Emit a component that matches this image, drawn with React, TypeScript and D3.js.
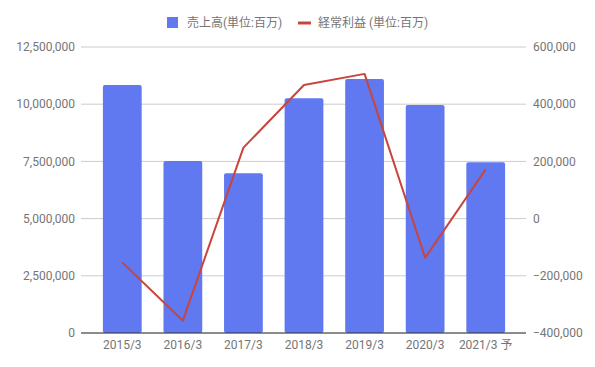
import * as d3 from 'd3';

const categories = ['2015/3', '2016/3', '2017/3', '2018/3', '2019/3', '2020/3', '2021/3 予'];
const sales = [10840000, 7520000, 6980000, 10260000, 11100000, 9970000, 7460000];
const ordinaryProfit = [-153000, -357000, 248000, 467000, 506000, -137000, 172000];
const leftTicks = [0, 2500000, 5000000, 7500000, 10000000, 12500000];
const rightTicks = [-400000, -200000, 0, 200000, 400000, 600000];
const legendLabels = ['売上高(単位:百万)', '経常利益 (単位:百万)'];

const W = 595;
const H = 367;
const FONT = "Roboto, 'Noto Sans CJK JP', sans-serif";

export default function App() {
  const top = 47;
  const bottom = 333;
  const gridLeft = 81;
  const gridRight = 526;

  const x = d3.scaleBand().domain(categories).range([92, 516]).paddingInner(0.36).paddingOuter(0.18);
  const yL = d3.scaleLinear().domain([0, 12500000]).range([bottom, top]);
  const yR = d3.scaleLinear().domain([-400000, 600000]).range([bottom, top]);
  const fmt = d3.format(',');

  const line = d3
    .line<number>()
    .x((_, i) => (x(categories[i]) || 0) + x.bandwidth() / 2)
    .y((d) => yR(d));

  return (
    <svg width={W} height={H} style={{ position: 'absolute', left: 0, top: 0 }} fontFamily={FONT}>
      <rect width={W} height={H} fill="#fff" />

      {/* gridlines */}
      {leftTicks.map((t) => (
        <line key={t} x1={gridLeft} x2={gridRight} y1={yL(t)} y2={yL(t)} stroke="#cccccc" strokeWidth={1} />
      ))}

      {/* bars */}
      {sales.map((v, i) => (
        <rect
          key={categories[i]}
          x={x(categories[i])}
          y={yL(v)}
          width={x.bandwidth()}
          height={bottom - yL(v)}
          fill="#6079f0"
          rx={2}
          ry={2}
        />
      ))}

      {/* baseline */}
      <line x1={gridLeft} x2={gridRight} y1={bottom} y2={bottom} stroke="#333" strokeWidth={1} />

      {/* profit line */}
      <path d={line(ordinaryProfit) || ''} fill="none" stroke="#c8453d" strokeWidth={2} strokeLinejoin="round" />

      {/* left axis labels */}
      {leftTicks.map((t) => (
        <text key={t} x={75} y={yL(t)} dy="0.35em" textAnchor="end" fontSize={12} fill="#757575">
          {fmt(t)}
        </text>
      ))}

      {/* right axis labels */}
      {rightTicks.map((t) => (
        <text key={t} x={533} y={yR(t)} dy="0.35em" textAnchor="start" fontSize={12} fill="#757575">
          {fmt(t)}
        </text>
      ))}

      {/* x labels */}
      {categories.map((c) => (
        <text key={c} x={(x(c) || 0) + x.bandwidth() / 2} y={345} dy="0.35em" textAnchor="middle" fontSize={12} fill="#757575">
          {c}
        </text>
      ))}

      {/* legend */}
      <rect x={167} y={17} width={11} height={11} fill="#6079f0" />
      <text x={187} y={23} dy="0.35em" fontSize={12} fill="#757575">
        {legendLabels[0]}
      </text>
      <line x1={298} x2={311} y1={23} y2={23} stroke="#c8453d" strokeWidth={3} />
      <text x={318} y={23} dy="0.35em" fontSize={12} fill="#757575">
        {legendLabels[1]}
      </text>
    </svg>
  );
}
